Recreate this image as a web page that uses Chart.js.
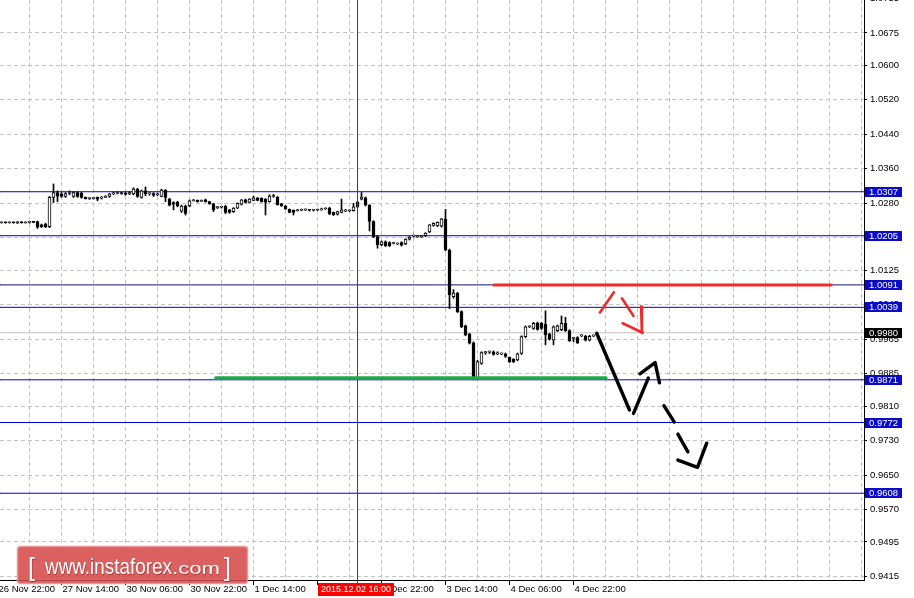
<!DOCTYPE html>
<html>
<head>
<meta charset="utf-8">
<script src="https://cdn.jsdelivr.net/npm/chart.js@4.4.0/dist/chart.umd.min.js"></script>
<style>
  html, body { margin: 0; padding: 0; background: #fff; }
  #wrap { width: 914px; height: 598px; position: relative; }
</style>
</head>
<body>
<div id="wrap"><canvas id="chart"></canvas></div>
<script>
// USDCHF H1, one bar per trading hour, bar 0 = 26 Nov 22:00
var firstBar = 1;
var opens = [
  1.0235, 1.0236, 1.0235, 1.0236, 1.0235, 1.0237, 1.0235, 1.0236, 1.0237, 1.0238,
  1.0230, 1.0232, 1.0226, 1.0294, 1.0305, 1.0302, 1.0296, 1.0303, 1.0296, 1.0305,
  1.0304, 1.0294, 1.0291, 1.0291, 1.0294, 1.0292, 1.0294, 1.0296, 1.0302, 1.0303,
  1.0305, 1.0304, 1.0302, 1.0302, 1.0313, 1.0294, 1.0309, 1.0302, 1.0303, 1.0300,
  1.0296, 1.0311, 1.0290, 1.0282, 1.0283, 1.0262, 1.0274, 1.0274, 1.0286, 1.0287,
  1.0285, 1.0288, 1.0284, 1.0279, 1.0270, 1.0271, 1.0274, 1.0265, 1.0261, 1.0269,
  1.0278, 1.0288, 1.0282, 1.0287, 1.0292, 1.0292, 1.0290, 1.0284, 1.0296, 1.0294,
  1.0279, 1.0274, 1.0266, 1.0264, 1.0263, 1.0264, 1.0265, 1.0265, 1.0264, 1.0264,
  1.0265, 1.0267, 1.0269, 1.0259, 1.0255, 1.0259, 1.0262, 1.0263, 1.0263, 1.0283,
  1.0290, 1.0293, 1.0276, 1.0238, 1.0203, 1.0184, 1.0191, 1.0189, 1.0187, 1.0186,
  1.0189, 1.0186, 1.0197, 1.0204, 1.0203, 1.0203, 1.0205, 1.0214, 1.0229, 1.0228,
  1.0227, 1.0243, 1.0172, 1.0064, 1.0072, 1.0029, 0.9996, 0.9977, 0.9957, 0.9875,
  0.9909, 0.9934, 0.9935, 0.9936, 0.9931, 0.9931, 0.9931, 0.9923, 0.9919, 0.9917,
  0.9932, 0.9971, 0.9994, 0.9990, 1.0002, 1.0002, 1.0000, 0.9977, 0.9963, 0.9985,
  0.9987, 1.0002, 0.9985, 0.9967, 0.9969, 0.9973, 0.9972, 0.9963, 0.9973
];
var highs = [
  1.0237, 1.0237, 1.0237, 1.0237, 1.0238, 1.0238, 1.0237, 1.0238, 1.0238, 1.0239,
  1.0232, 1.0234, 1.0296, 1.0325, 1.0309, 1.0305, 1.0305, 1.0309, 1.0307, 1.0307,
  1.0306, 1.0295, 1.0293, 1.0294, 1.0295, 1.0296, 1.0298, 1.0303, 1.0306, 1.0307,
  1.0306, 1.0306, 1.0307, 1.0316, 1.0315, 1.0311, 1.0318, 1.0305, 1.0305, 1.0304,
  1.0313, 1.0312, 1.0292, 1.0284, 1.0285, 1.0276, 1.0276, 1.0288, 1.0289, 1.0288,
  1.0288, 1.0290, 1.0285, 1.0280, 1.0273, 1.0273, 1.0275, 1.0266, 1.0270, 1.0281,
  1.0289, 1.0290, 1.0291, 1.0297, 1.0294, 1.0293, 1.0291, 1.0300, 1.0301, 1.0296,
  1.0280, 1.0275, 1.0267, 1.0265, 1.0266, 1.0267, 1.0267, 1.0266, 1.0266, 1.0267,
  1.0269, 1.0270, 1.0271, 1.0260, 1.0262, 1.0290, 1.0266, 1.0265, 1.0280, 1.0285,
  1.0305, 1.0295, 1.0277, 1.0240, 1.0205, 1.0193, 1.0193, 1.0191, 1.0190, 1.0188,
  1.0191, 1.0198, 1.0203, 1.0207, 1.0206, 1.0206, 1.0212, 1.0231, 1.0235, 1.0237,
  1.0245, 1.0266, 1.0174, 1.0080, 1.0074, 1.0031, 0.9998, 0.9979, 0.9959, 0.9916,
  0.9936, 0.9937, 0.9938, 0.9938, 0.9936, 0.9933, 0.9933, 0.9924, 0.9920, 0.9933,
  0.9973, 0.9996, 0.9996, 1.0004, 1.0005, 1.0004, 1.0031, 0.9979, 0.9996, 0.9998,
  1.0019, 1.0016, 0.9987, 0.9969, 0.9971, 0.9976, 0.9974, 0.9974, 0.9975
];
var lows = [
  1.0234, 1.0234, 1.0234, 1.0234, 1.0233, 1.0234, 1.0234, 1.0234, 1.0235, 1.0222,
  1.0224, 1.0224, 1.0224, 1.0282, 1.0284, 1.0294, 1.0294, 1.0300, 1.0294, 1.0294,
  1.0292, 1.0290, 1.0289, 1.0290, 1.0286, 1.0290, 1.0293, 1.0294, 1.0300, 1.0302,
  1.0301, 1.0299, 1.0300, 1.0300, 1.0294, 1.0292, 1.0298, 1.0299, 1.0296, 1.0298,
  1.0295, 1.0284, 1.0274, 1.0265, 1.0272, 1.0259, 1.0253, 1.0272, 1.0285, 1.0283,
  1.0284, 1.0283, 1.0278, 1.0261, 1.0268, 1.0269, 1.0256, 1.0257, 1.0259, 1.0268,
  1.0276, 1.0281, 1.0281, 1.0286, 1.0286, 1.0283, 1.0253, 1.0283, 1.0294, 1.0276,
  1.0273, 1.0266, 1.0258, 1.0253, 1.0262, 1.0263, 1.0263, 1.0262, 1.0262, 1.0263,
  1.0264, 1.0266, 1.0254, 1.0252, 1.0253, 1.0258, 1.0261, 1.0261, 1.0262, 1.0270,
  1.0288, 1.0274, 1.0216, 1.0201, 1.0176, 1.0182, 1.0180, 1.0180, 1.0186, 1.0184,
  1.0181, 1.0184, 1.0195, 1.0202, 1.0201, 1.0201, 1.0203, 1.0212, 1.0227, 1.0226,
  1.0225, 1.0170, 1.0036, 1.0060, 1.0027, 0.9992, 0.9973, 0.9954, 0.9871, 0.9872,
  0.9907, 0.9930, 0.9932, 0.9928, 0.9929, 0.9929, 0.9923, 0.9911, 0.9911, 0.9915,
  0.9930, 0.9969, 0.9992, 0.9988, 0.9986, 0.9988, 0.9952, 0.9963, 0.9952, 0.9983,
  0.9985, 0.9983, 0.9960, 0.9959, 0.9955, 0.9971, 0.9961, 0.9961, 0.9971
];
var closes = [
  1.0236, 1.0235, 1.0236, 1.0235, 1.0237, 1.0235, 1.0236, 1.0237, 1.0236, 1.0225,
  1.0226, 1.0226, 1.0294, 1.0305, 1.0297, 1.0296, 1.0303, 1.0303, 1.0305, 1.0296,
  1.0294, 1.0291, 1.0291, 1.0292, 1.0290, 1.0294, 1.0296, 1.0302, 1.0303, 1.0305,
  1.0303, 1.0301, 1.0305, 1.0314, 1.0296, 1.0309, 1.0302, 1.0302, 1.0299, 1.0302,
  1.0311, 1.0294, 1.0276, 1.0278, 1.0274, 1.0274, 1.0257, 1.0286, 1.0287, 1.0284,
  1.0286, 1.0284, 1.0279, 1.0265, 1.0271, 1.0271, 1.0259, 1.0259, 1.0269, 1.0280,
  1.0288, 1.0282, 1.0290, 1.0293, 1.0287, 1.0284, 1.0283, 1.0297, 1.0296, 1.0277,
  1.0274, 1.0267, 1.0259, 1.0259, 1.0264, 1.0265, 1.0265, 1.0264, 1.0264, 1.0265,
  1.0267, 1.0268, 1.0256, 1.0254, 1.0261, 1.0265, 1.0264, 1.0263, 1.0272, 1.0272,
  1.0294, 1.0276, 1.0238, 1.0203, 1.0184, 1.0191, 1.0182, 1.0182, 1.0188, 1.0186,
  1.0183, 1.0197, 1.0202, 1.0205, 1.0203, 1.0204, 1.0211, 1.0230, 1.0234, 1.0236,
  1.0244, 1.0172, 1.0068, 1.0072, 1.0029, 0.9994, 0.9975, 0.9956, 0.9875, 0.9913,
  0.9934, 0.9934, 0.9936, 0.9930, 0.9932, 0.9931, 0.9925, 0.9913, 0.9913, 0.9931,
  0.9971, 0.9994, 0.9994, 1.0002, 0.9988, 0.9990, 0.9975, 0.9965, 0.9994, 0.9996,
  1.0002, 0.9985, 0.9962, 0.9967, 0.9957, 0.9974, 0.9963, 0.9972, 0.9973
];

var timeTickBars = [0, 16, 32, 48, 64, 80, 96, 112, 128, 144];
var timeTickLabels = ["26 Nov 22:00", "27 Nov 14:00", "30 Nov 06:00", "30 Nov 22:00", "1 Dec 14:00",
  "2 Dec 06:00", "2 Dec 22:00", "3 Dec 14:00", "4 Dec 06:00", "4 Dec 22:00"];
var priceTicks = [1.0755, 1.0675, 1.0600, 1.0520, 1.0440, 1.0360, 1.0280, 1.0200, 1.0125, 1.0045,
  0.9965, 0.9885, 0.9810, 0.9730, 0.9650, 0.9570, 0.9495, 0.9415];

var levelPrices = [1.0307, 1.0205, 1.0091, 1.0039, 0.9871, 0.9772, 0.9608];
var bidPrice = 0.9980;
var cursorBar = 90;
var cursorLabel = "2015.12.02 16:00";

// hand drawn marks, [bar, price]
var resistanceLine = [[124.1, 1.0091], [208.4, 1.0091]];
var supportLine = [[54.6, 0.9875], [152.1, 0.9875]];
var redStrokes = [
  [[150.6, 1.0027], [154.1, 1.0074]],
  [[156.1, 1.0060], [159.0, 1.0019]],
  [[156.3, 1.0002], [161.3, 0.9980]],
  [[160.9, 1.0041], [161.1, 0.9980]]
];
var blackStrokes = [
  [[149.8, 0.9979], [158.0, 0.9801]],
  [[159.0, 0.9793], [162.7, 0.9875]],
  [[160.6, 0.9885], [164.4, 0.9911], [165.5, 0.9864]],
  [[166.6, 0.9811], [169.2, 0.9773]],
  [[170.1, 0.9745], [172.6, 0.9704]],
  [[170.1, 0.9685], [175.0, 0.9668], [177.3, 0.9724]]
];

var xMin = 0.625, xMax = 216.625;
var yMin = 0.940688, yMax = 1.075150;

Chart.defaults.font.family = '"Liberation Sans", Arial, sans-serif';
Chart.defaults.font.size = 9.5;
Chart.defaults.color = '#000';

var bars = opens.map(function (o, i) { return firstBar + i; });
var bodies = bars.map(function (k, i) { return { x: k, y: [opens[i], closes[i]] }; });
var wicks = bars.map(function (k, i) { return { x: k, y: [lows[i], highs[i]] }; });

function pts(list) {
  return list.map(function (p) { return { x: p[0], y: p[1] }; });
}
function stroke(list, color, width, order) {
  return {
    type: 'line', data: pts(list), borderColor: color, borderWidth: width,
    pointRadius: 0, tension: 0, fill: false, order: order, borderCapStyle: 'round', borderJoinStyle: 'round'
  };
}

var datasets = [];
levelPrices.forEach(function (v) {
  datasets.push(stroke([[xMin, v], [xMax, v]], v === 1.0091 ? '#121270' : '#0000d8', 1, 6));
});
datasets.push(stroke([[xMin, bidPrice], [xMax, bidPrice]], '#c0c0c0', 1, 6));
datasets.push({
  type: 'bar', data: wicks, backgroundColor: '#000', borderWidth: 0,
  barThickness: 1, minBarLength: 1, grouped: false, order: 4
});
datasets.push({
  type: 'bar', data: bodies, borderColor: '#000', borderWidth: 1, borderSkipped: false,
  backgroundColor: function (c) { return closes[c.dataIndex] >= opens[c.dataIndex] ? '#fff' : '#000'; },
  barThickness: 3, minBarLength: 1, grouped: false, order: 3
});
datasets.push(stroke([[cursorBar, yMin], [cursorBar, yMax]], '#e00000', 1, 2));
datasets.push(stroke(resistanceLine, '#ee2a2a', 3, 1));
datasets.push(stroke(supportLine, '#1faa46', 3.5, 1));
redStrokes.forEach(function (s) { datasets.push(stroke(s, '#ee2a2a', 2.6, 0)); });
blackStrokes.forEach(function (s) { datasets.push(stroke(s, '#000', 3.4, 0)); });

function fitText(ctx, text, x, y, width, font) {
  ctx.font = font;
  var w = ctx.measureText(text).width;
  ctx.save();
  ctx.translate(x, y);
  ctx.scale(width / w, 1);
  ctx.fillText(text, 0, 0);
  ctx.restore();
}

var overlay = {
  id: 'overlay',
  afterDraw: function (chart) {
    var ctx = chart.ctx, ys = chart.scales.y, xs = chart.scales.x, area = chart.chartArea;
    ctx.save();
    ctx.font = '9.5px "Liberation Sans"';
    ctx.textBaseline = 'middle';
    ctx.textAlign = 'left';
    function box(v, color) {
      var y = Math.round(ys.getPixelForValue(v));
      ctx.fillStyle = color;
      ctx.fillRect(865, y - 5, 37, 10);
      ctx.fillStyle = '#fff';
      ctx.fillText(v.toFixed(4), 869, y + 0.5);
    }
    levelPrices.forEach(function (v) { box(v, '#0a0acc'); });
    box(bidPrice, '#000');

    // time cursor label
    var cx = xs.getPixelForValue(cursorBar);
    ctx.fillStyle = '#e00000';
    ctx.fillRect(Math.floor(cx), area.bottom, 1, 3);
    ctx.fillStyle = '#ff0000';
    ctx.fillRect(Math.round(cx) - 40, 583, 76, 13);
    ctx.fillStyle = '#fff';
    ctx.textAlign = 'center';
    ctx.font = '9px "Liberation Sans"';
    ctx.fillText(cursorLabel, Math.round(cx) - 2, 589.5);

    // logo
    ctx.beginPath();
    ctx.roundRect(17.5, 546.5, 230, 37, 3);
    ctx.fillStyle = 'rgba(214, 74, 74, 0.88)';
    ctx.fill();
    ctx.lineWidth = 1.5;
    ctx.strokeStyle = 'rgba(238, 150, 150, 0.95)';
    ctx.stroke();
    ctx.fillStyle = '#fff';
    ctx.textAlign = 'left';
    ctx.textBaseline = 'alphabetic';
    ctx.shadowColor = 'rgba(110, 0, 0, 0.5)';
    ctx.shadowBlur = 1;
    ctx.shadowOffsetX = 0.5;
    ctx.shadowOffsetY = 0.5;
    ctx.font = '25px "Liberation Sans"';
    ctx.fillText('[', 28, 576);
    ctx.fillText(']', 224, 576);
    fitText(ctx, 'www.instaforex', 45, 574, 127, '22px "Liberation Sans"');
    fitText(ctx, '.com', 172, 574, 48, '17px "Liberation Sans"');
    ctx.restore();
  }
};

new Chart(document.getElementById('chart'), {
  type: 'bar',
  data: { datasets: datasets },
  options: {
    responsive: true,
    maintainAspectRatio: false,
    animation: false,
    layout: { padding: 0 },
    plugins: { legend: { display: false }, tooltip: { enabled: false } },
    scales: {
      x: {
        type: 'linear', min: xMin, max: xMax, offset: false,
        grid: {
          offset: false, color: '#c4c4c4', tickLength: 5, tickWidth: 1, tickBorderDash: [],
          tickColor: function (c) { return timeTickBars.indexOf(c.tick.value) >= 0 ? '#000' : 'rgba(0,0,0,0)'; }
        },
        border: { color: '#000', width: 1, dash: [4, 3] },
        ticks: {
          autoSkip: false, maxRotation: 0, minRotation: 0, align: 'start', labelOffset: 1, padding: -1,
          callback: function (v) { var i = timeTickBars.indexOf(v); return i >= 0 ? timeTickLabels[i] : ''; }
        },
        afterBuildTicks: function (s) {
          var t = [];
          for (var g = 0; g <= 216; g += 8) t.push({ value: g });
          s.ticks = t;
        },
        afterFit: function (s) { s.height = 18; s.paddingLeft = 0; s.paddingRight = 0; }
      },
      y: {
        type: 'linear', position: 'right', min: yMin, max: yMax,
        grid: { color: '#c4c4c4', tickLength: 3, tickColor: '#000', tickBorderDash: [] },
        border: { color: '#000', width: 1, dash: [4, 3] },
        ticks: {
          autoSkip: false, padding: 3,
          callback: function (v) { return v.toFixed(4); }
        },
        afterBuildTicks: function (s) { s.ticks = priceTicks.map(function (v) { return { value: v }; }); },
        afterFit: function (s) { s.width = 50; s.paddingTop = 0; s.paddingBottom = 0; }
      }
    }
  },
  plugins: [overlay]
});
</script>
</body>
</html>
